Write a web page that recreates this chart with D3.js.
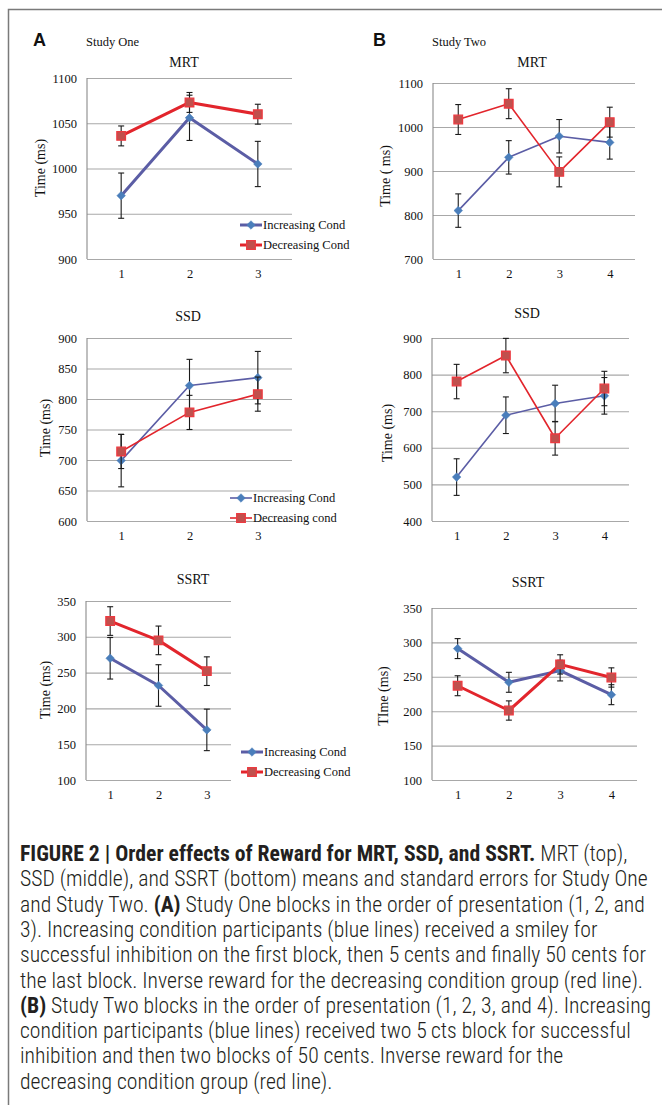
<!DOCTYPE html>
<html>
<head>
<meta charset="utf-8">
<title>Figure 2 - order effects of reward</title>
<style>
  body { margin: 0; background: #fff; }
  svg { display: block; }
</style>
</head>
<body>
<script src="https://cdn.jsdelivr.net/npm/d3@7"></script>
<script>

var width = 662, height = 1105;

// blocks (x categories)
var blocksOne = ['1', '2', '3'],
    blocksTwo = ['1', '2', '3', '4'];

var seriesNames   = ['Increasing Cond', 'Decreasing Cond'],
    seriesNamesSd = ['Increasing Cond', 'Decreasing cond'];

// y tick labels
var mrtOneTicks  = [900, 950, 1000, 1050, 1100],
    ssdOneTicks  = [600, 650, 700, 750, 800, 850, 900],
    ssrtOneTicks = [100, 150, 200, 250, 300, 350],
    mrtTwoTicks  = [700, 800, 900, 1000, 1100],
    ssdTwoTicks  = [400, 500, 600, 700, 800, 900],
    ssrtTwoTicks = [100, 150, 200, 250, 300, 350];

// study one, means and standard errors (ms)
var mrtOneInc  = [970, 1056, 1005],  mrtOneIncErr  = [25, 25, 25],
    mrtOneDec  = [1036, 1073, 1060], mrtOneDecErr  = [11, 11, 11],
    ssdOneInc  = [699, 822, 835],    ssdOneIncErr  = [43, 43, 43],
    ssdOneDec  = [714, 778, 808],    ssdOneDecErr  = [28, 28, 28],
    ssrtOneInc = [270, 232, 170],    ssrtOneIncErr = [29, 29, 29],
    ssrtOneDec = [322, 295, 252],    ssrtOneDecErr = [20, 20, 20];

// study two
var mrtTwoInc  = [810, 931, 979, 965],   mrtTwoIncErr  = [38, 38, 38, 38],
    mrtTwoDec  = [1017, 1053, 898, 1011], mrtTwoDecErr = [34, 34, 34, 34],
    ssdTwoInc  = [520, 689, 721, 742],   ssdTwoIncErr  = [50, 50, 50, 50],
    ssdTwoDec  = [781, 852, 626, 762],   ssdTwoDecErr  = [47, 47, 46, 47],
    ssrtTwoInc = [291, 242, 259, 224],   ssrtTwoIncErr = [14.5, 14.5, 15, 14.5],
    ssrtTwoDec = [237, 201, 268, 249],   ssrtTwoDecErr = [14.5, 14, 14, 14];

var captionLines = [
  [['FIGURE 2 | Order effects of Reward for MRT, SSD, and SSRT.', 1], [' MRT (top),', 0]],
  [['SSD (middle), and SSRT (bottom) means and standard errors for Study One', 0]],
  [['and Study Two. ', 0], ['(A)', 1], [' Study One blocks in the order of presentation (1, 2, and', 0]],
  [['3). Increasing condition participants (blue lines) received a smiley for', 0]],
  [['successful inhibition on the first block, then 5 cents and finally 50 cents for', 0]],
  [['the last block. Inverse reward for the decreasing condition group (red line).', 0]],
  [['(B)', 1], [' Study Two blocks in the order of presentation (1, 2, 3, and 4). Increasing', 0]],
  [['condition participants (blue lines) received two 5\u2009cts block for successful', 0]],
  [['inhibition and then two blocks of 50 cents. Inverse reward for the', 0]],
  [['decreasing condition group (red line).', 0]]
];

var incLine = '#5b5da5', incMark = '#4a7ebb',
    decLine = '#e2252c', decMark = '#c0504d', decEdge = '#ec3a40',
    grid = '#a8a8a8', serif = '"Liberation Serif", "Times New Roman", serif';

var panels = [
  {title: 'MRT', yTitle: 'Time (ms)', blocks: blocksOne, ticks: mrtOneTicks,
   inc: mrtOneInc, incErr: mrtOneIncErr, dec: mrtOneDec, decErr: mrtOneDecErr,
   left: 87, right: 292, top: 78, bottom: 259, lw: 3,
   tx: 184, ty: 67, yx: 40, yy: 168, legend: {x: 240, y: 225, names: seriesNames}},
  {title: 'SSD', yTitle: 'Time (ms)', blocks: blocksOne, ticks: ssdOneTicks,
   inc: ssdOneInc, incErr: ssdOneIncErr, dec: ssdOneDec, decErr: ssdOneDecErr,
   left: 87, right: 292, top: 338, bottom: 521, lw: 1.6,
   tx: 188, ty: 321, yx: 45, yy: 428, legend: {x: 230, y: 498, names: seriesNamesSd}},
  {title: 'SSRT', yTitle: 'Time (ms)', blocks: blocksOne, ticks: ssrtOneTicks,
   inc: ssrtOneInc, incErr: ssrtOneIncErr, dec: ssrtOneDec, decErr: ssrtOneDecErr,
   left: 86, right: 231, top: 601, bottom: 780, lw: 3,
   tx: 193, ty: 584, yx: 45, yy: 690, legend: {x: 241, y: 752, names: seriesNames}},
  {title: 'MRT', yTitle: 'Time ( ms)', blocks: blocksTwo, ticks: mrtTwoTicks,
   inc: mrtTwoInc, incErr: mrtTwoIncErr, dec: mrtTwoDec, decErr: mrtTwoDecErr,
   left: 433, right: 635, top: 83, bottom: 259, lw: 1.6,
   tx: 532, ty: 67, yx: 385, yy: 176},
  {title: 'SSD', yTitle: 'Time (ms)', blocks: blocksTwo, ticks: ssdTwoTicks,
   inc: ssdTwoInc, incErr: ssdTwoIncErr, dec: ssdTwoDec, decErr: ssdTwoDecErr,
   left: 432, right: 629, top: 338, bottom: 521, lw: 1.6,
   tx: 527, ty: 318, yx: 387, yy: 433},
  {title: 'SSRT', yTitle: 'TIme (ms)', blocks: blocksTwo, ticks: ssrtTwoTicks,
   inc: ssrtTwoInc, incErr: ssrtTwoIncErr, dec: ssrtTwoDec, decErr: ssrtTwoDecErr,
   left: 432, right: 637, top: 608, bottom: 780, lw: 3,
   tx: 528, ty: 587, yx: 383, yy: 696}
];

var svg = d3.select('body').append('svg')
    .attr('width', width)
    .attr('height', height);

// frame (top + left rule)
svg.append('path')
   .attr('d', 'M8.5,' + height + 'V9.5H' + width)
   .attr('fill', 'none')
   .attr('stroke', '#7a7a7a')
   .attr('stroke-width', 1.5);

svg.append('text').attr('x', 33).attr('y', 46).text('A')
   .attr('font-family', '"Liberation Sans", Arial, sans-serif')
   .attr('font-weight', 'bold').attr('font-size', 18).attr('fill', '#111');
svg.append('text').attr('x', 86).attr('y', 46).text('Study One')
   .attr('font-family', serif).attr('font-size', 12.5).attr('fill', '#111');
svg.append('text').attr('x', 373).attr('y', 46).text('B')
   .attr('font-family', '"Liberation Sans", Arial, sans-serif')
   .attr('font-weight', 'bold').attr('font-size', 18).attr('fill', '#111');
svg.append('text').attr('x', 432).attr('y', 46).text('Study Two')
   .attr('font-family', serif).attr('font-size', 12.5).attr('fill', '#111');

panels.forEach(drawPanel);
drawCaption();

function diamond(r){
  return 'M0,' + (-r) + 'L' + r + ',0L0,' + r + 'L' + (-r) + ',0Z';
}

function drawPanel(p){
  var g = svg.append('g'),
      w = p.right - p.left;

  var x = d3.scalePoint().domain(p.blocks).range([p.left, p.right]).padding(0.5),
      y = d3.scaleLinear().domain(d3.extent(p.ticks)).range([p.bottom, p.top]);

  // y axis with gridlines
  g.append('g')
   .attr('transform', 'translate(' + p.left + ',0)')
   .call(d3.axisLeft(y).tickValues(p.ticks).tickSize(-w).tickPadding(10).tickFormat(d3.format('d')))
   .call(function(a){
     a.attr('font-family', serif).attr('font-size', 12.5);
     a.select('.domain').remove();
     a.selectAll('.tick line').attr('stroke', grid).attr('stroke-width', 1.1);
     a.selectAll('.tick text').attr('fill', '#111');
   });

  g.append('line')
   .attr('x1', p.left).attr('x2', p.left)
   .attr('y1', p.top).attr('y2', p.bottom)
   .attr('stroke', '#8a8a8a').attr('stroke-width', 1.1);

  // x axis labels
  g.append('g')
   .attr('transform', 'translate(0,' + p.bottom + ')')
   .call(d3.axisBottom(x).tickSize(0).tickPadding(10))
   .call(function(a){
     a.attr('font-family', serif).attr('font-size', 12.5);
     a.select('.domain').remove();
     a.selectAll('.tick text').attr('fill', '#111');
   });

  g.append('text')
   .attr('x', p.tx).attr('y', p.ty)
   .attr('text-anchor', 'middle')
   .attr('font-family', serif).attr('font-size', 14).attr('fill', '#111')
   .text(p.title);

  g.append('text')
   .attr('transform', 'translate(' + p.yx + ',' + p.yy + ') rotate(-90)')
   .attr('text-anchor', 'middle').attr('dy', '0.35em')
   .attr('font-family', serif).attr('font-size', 14).attr('fill', '#111')
   .text(p.yTitle);

  var series = [
    {vals: p.inc, errs: p.incErr, line: incLine, kind: 'diamond'},
    {vals: p.dec, errs: p.decErr, line: decLine, kind: 'square'}
  ];

  var line = d3.line()
    .x(function(d, i){ return x(p.blocks[i]); })
    .y(function(d){ return y(d); });

  series.forEach(function(s){
    g.append('path')
     .datum(s.vals)
     .attr('d', line)
     .attr('fill', 'none')
     .attr('stroke', s.line)
     .attr('stroke-width', p.lw)
     .attr('stroke-linejoin', 'round');

    // error bars
    var eb = g.append('g').selectAll('g')
      .data(s.vals)
      .enter().append('g')
      .attr('stroke', '#1a1a1a').attr('stroke-width', 1.1);

    eb.append('line')
      .attr('x1', function(d, i){ return x(p.blocks[i]); })
      .attr('x2', function(d, i){ return x(p.blocks[i]); })
      .attr('y1', function(d, i){ return y(d - s.errs[i]); })
      .attr('y2', function(d, i){ return y(d + s.errs[i]); });
    [-1, 1].forEach(function(sign){
      eb.append('line')
        .attr('x1', function(d, i){ return x(p.blocks[i]) - 3; })
        .attr('x2', function(d, i){ return x(p.blocks[i]) + 3; })
        .attr('y1', function(d, i){ return y(d + sign * s.errs[i]); })
        .attr('y2', function(d, i){ return y(d + sign * s.errs[i]); });
    });

    g.append('g').selectAll('path')
     .data(s.vals)
     .enter().append('path')
     .attr('transform', function(d, i){ return 'translate(' + x(p.blocks[i]) + ',' + y(d) + ')'; })
     .attr('d', s.kind === 'diamond' ? diamond(4.3) : 'M-4.3,-4.3H4.3V4.3H-4.3Z')
     .attr('fill', s.kind === 'diamond' ? incMark : decMark)
     .attr('stroke', s.kind === 'diamond' ? incMark : decEdge)
     .attr('stroke-width', s.kind === 'diamond' ? 0.5 : 1.3);
  });

  if(p.legend){
    var lg = g.append('g');
    series.forEach(function(s, i){
      var ly = p.legend.y + i * 20, lx = p.legend.x;
      lg.append('line')
        .attr('x1', lx).attr('x2', lx + 22)
        .attr('y1', ly).attr('y2', ly)
        .attr('stroke', s.line).attr('stroke-width', p.lw);
      lg.append('path')
        .attr('transform', 'translate(' + (lx + 11) + ',' + ly + ')')
        .attr('d', s.kind === 'diamond' ? diamond(4.3) : 'M-4.3,-4.3H4.3V4.3H-4.3Z')
        .attr('fill', s.kind === 'diamond' ? incMark : decMark)
        .attr('stroke', s.kind === 'diamond' ? incMark : decEdge)
        .attr('stroke-width', s.kind === 'diamond' ? 0.5 : 1.3);
      lg.append('text')
        .attr('x', lx + 23).attr('y', ly).attr('dy', '0.35em')
        .attr('font-family', serif).attr('font-size', 12.5).attr('fill', '#111')
        .text(p.legend.names[i]);
    });
  }
}

function drawCaption(){
  var capFont = '"Liberation Sans Narrow", "Roboto Condensed", Roboto, sans-serif';

  // fit font size so the full-width line spans 20..648
  var probe = svg.append('text')
    .attr('font-family', capFont).attr('font-size', 10).attr('font-weight', 300)
    .text(captionLines[1][0][0]);
  var size = 10 * 628 / probe.node().getComputedTextLength();
  probe.remove();

  var cap = svg.append('text')
    .attr('font-family', capFont)
    .attr('font-size', size)
    .attr('font-weight', 300)
    .attr('fill', '#231f20');

  captionLines.forEach(function(parts, i){
    var row = cap.append('tspan').attr('x', 20).attr('y', 861 + i * 25.3);
    parts.forEach(function(pt, j){
      (j === 0 ? row : cap.append('tspan'))
        .attr('font-weight', pt[1] ? 'bold' : null)
        .text(pt[0]);
    });
  });
}

</script>
</body>
</html>
